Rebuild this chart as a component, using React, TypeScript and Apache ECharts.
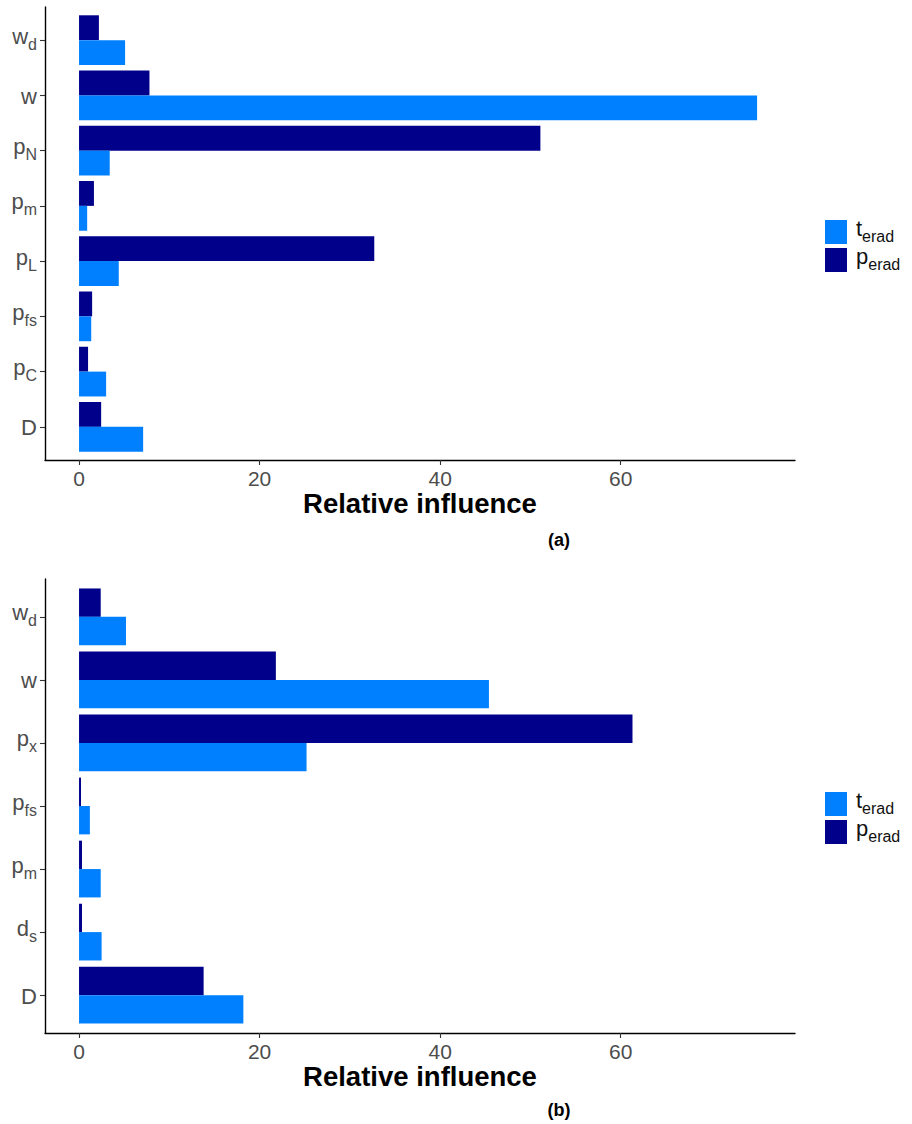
import React, { useEffect, useRef } from 'react';
import * as echarts from 'echarts';

// Panel (a): categories listed top to bottom
const CATEGORIES_A = ['w_d', 'w', 'p_N', 'p_m', 'p_L', 'p_fs', 'p_C', 'D'];
const P_ERAD_A = [2.2, 7.8, 51.1, 1.65, 32.7, 1.45, 1.0, 2.45];
const T_ERAD_A = [5.1, 75.1, 3.4, 0.9, 4.4, 1.35, 3.0, 7.1];

// Panel (b)
const CATEGORIES_B = ['w_d', 'w', 'p_x', 'p_fs', 'p_m', 'd_s', 'D'];
const P_ERAD_B = [2.4, 21.8, 61.3, 0.22, 0.33, 0.33, 13.8];
const T_ERAD_B = [5.2, 45.4, 25.2, 1.2, 2.4, 2.5, 18.2];

const LEGEND_NAMES = ['t_erad', 'p_erad'];
const X_TICKS = [0, 20, 40, 60];
const X_TITLE = 'Relative influence';
const PANEL_TAGS = ['(a)', '(b)'];

const FONT = '"Liberation Sans", Arial, Helvetica, sans-serif';
const COLOR_T = '#0080FF';
const COLOR_P = '#00008B';
const TICK_TEXT = '#4D4D4D';

const X_MIN = -3.77;
const X_MAX = 79.3;
const PLOT_LEFT = 45;
const PLOT_RIGHT = 795;

// "p_N" -> rich text with a subscript part
function subscriptLabel(label: string): string {
  const i = label.indexOf('_');
  if (i < 0) return `{m|${label}}`;
  return `{ms|${label.slice(0, i)}}{s|${label.slice(i + 1)}}`;
}

function legendLabel(label: string): string {
  const i = label.indexOf('_');
  if (i < 0) return `{lm|${label}}`;
  return `{lm|${label.slice(0, i)}}{ls|${label.slice(i + 1)}}`;
}

const axisRich = {
  m: { fontSize: 22, color: TICK_TEXT, fontFamily: FONT, lineHeight: 24, verticalAlign: 'bottom' },
  ms: { fontSize: 22, color: TICK_TEXT, fontFamily: FONT, lineHeight: 24, verticalAlign: 'bottom', padding: [0, 0, 5, 0] },
  s: { fontSize: 16, color: TICK_TEXT, fontFamily: FONT, lineHeight: 18, verticalAlign: 'bottom' },
};

const legendRich = {
  lm: { fontSize: 22, color: '#111', fontFamily: FONT, lineHeight: 24, verticalAlign: 'bottom', padding: [0, 0, 5, 4] },
  ls: { fontSize: 16, color: '#111', fontFamily: FONT, lineHeight: 18, verticalAlign: 'bottom' },
};

interface Panel {
  cats: string[];
  p: number[];
  t: number[];
  top: number;
  bottom: number;
  legendTop: number;
  titleY: number;
  tagY: number;
}

const PANELS: Panel[] = [
  { cats: CATEGORIES_A, p: P_ERAD_A, t: T_ERAD_A, top: 7, bottom: 460, legendTop: 212, titleY: 503, tagY: 540 },
  { cats: CATEGORIES_B, p: P_ERAD_B, t: T_ERAD_B, top: 579, bottom: 1033, legendTop: 784, titleY: 1076, tagY: 1110 },
];

function buildOption() {
  const grid: any[] = [];
  const xAxis: any[] = [];
  const yAxis: any[] = [];
  const series: any[] = [];
  const legend: any[] = [];
  const graphic: any[] = [];

  PANELS.forEach((pn, i) => {
    const n = pn.cats.length;
    const full = pn.bottom - pn.top;
    const band = full / (n + 0.2);
    const frameIdx = 2 * i;
    const barIdx = 2 * i + 1;

    // frame grid: carries the axis lines, x ticks and x labels
    grid.push({ left: PLOT_LEFT, width: PLOT_RIGHT - PLOT_LEFT, top: pn.top, height: full, containLabel: false, outerBoundsMode: 'none' });
    // bar grid: inset by the discrete-axis expansion
    grid.push({ left: PLOT_LEFT, width: PLOT_RIGHT - PLOT_LEFT, top: pn.top + 0.1 * band, height: n * band, containLabel: false, outerBoundsMode: 'none' });

    xAxis.push({
      gridIndex: frameIdx,
      type: 'value',
      min: X_MIN,
      max: X_MAX,
      axisLine: { show: true, onZero: false, lineStyle: { color: '#000', width: 1.4 } },
      axisTick: { show: true, length: 5, customValues: X_TICKS, lineStyle: { color: '#333', width: 1.1 } },
      axisLabel: { show: true, customValues: X_TICKS, margin: 7, fontSize: 21, lineHeight: 22, color: TICK_TEXT, fontFamily: FONT },
      splitLine: { show: false },
    });
    xAxis.push({ gridIndex: barIdx, type: 'value', min: X_MIN, max: X_MAX, show: false });

    yAxis.push({
      gridIndex: frameIdx,
      type: 'value',
      min: 0,
      max: 1,
      axisLine: { show: true, onZero: false, lineStyle: { color: '#000', width: 1.4 } },
      axisTick: { show: false },
      axisLabel: { show: false },
      splitLine: { show: false },
    });
    yAxis.push({
      gridIndex: barIdx,
      type: 'category',
      inverse: true,
      data: pn.cats,
      axisLine: { show: false, onZero: false },
      axisTick: { show: true, alignWithLabel: true, length: 5, lineStyle: { color: '#333', width: 1.1 } },
      axisLabel: { margin: 8, formatter: (v: string) => subscriptLabel(v), rich: axisRich },
      splitLine: { show: false },
    });

    series.push({
      name: 'p_erad',
      type: 'bar',
      xAxisIndex: barIdx,
      yAxisIndex: barIdx,
      data: pn.p,
      itemStyle: { color: COLOR_P },
      barGap: '0%',
      barCategoryGap: '10%',
    });
    series.push({
      name: 't_erad',
      type: 'bar',
      xAxisIndex: barIdx,
      yAxisIndex: barIdx,
      data: pn.t,
      itemStyle: { color: COLOR_T },
      barGap: '0%',
      barCategoryGap: '10%',
    });

    legend.push({
      data: LEGEND_NAMES,
      orient: 'vertical',
      left: 820,
      top: pn.legendTop,
      icon: 'rect',
      itemWidth: 22,
      itemHeight: 24,
      itemGap: 1,
      selectedMode: false,
      formatter: (v: string) => legendLabel(v),
      textStyle: { rich: legendRich },
    });

    graphic.push({
      type: 'text',
      x: (PLOT_LEFT + PLOT_RIGHT) / 2,
      y: pn.titleY,
      style: { text: X_TITLE, fontSize: 27.5, lineHeight: 28, fontWeight: 'bold', fontFamily: FONT, fill: '#000', align: 'center', verticalAlign: 'middle' },
    });
    graphic.push({
      type: 'text',
      x: 559,
      y: pn.tagY,
      style: { text: PANEL_TAGS[i], fontSize: 18, fontWeight: 'bold', fontFamily: FONT, fill: '#000', align: 'center', verticalAlign: 'middle' },
    });
  });

  return {
    animation: false,
    backgroundColor: '#fff',
    textStyle: { fontFamily: FONT },
    grid,
    xAxis,
    yAxis,
    series,
    legend,
    graphic,
  };
}

export default function App() {
  const ref = useRef<HTMLDivElement>(null);
  useEffect(() => {
    if (!ref.current) return;
    const chart = echarts.init(ref.current, undefined, { renderer: 'svg' });
    chart.setOption(buildOption() as any);
    return () => chart.dispose();
  }, []);
  return <div ref={ref} style={{ position: 'absolute', left: 0, top: 0, width: 912, height: 1124 }} />;
}
